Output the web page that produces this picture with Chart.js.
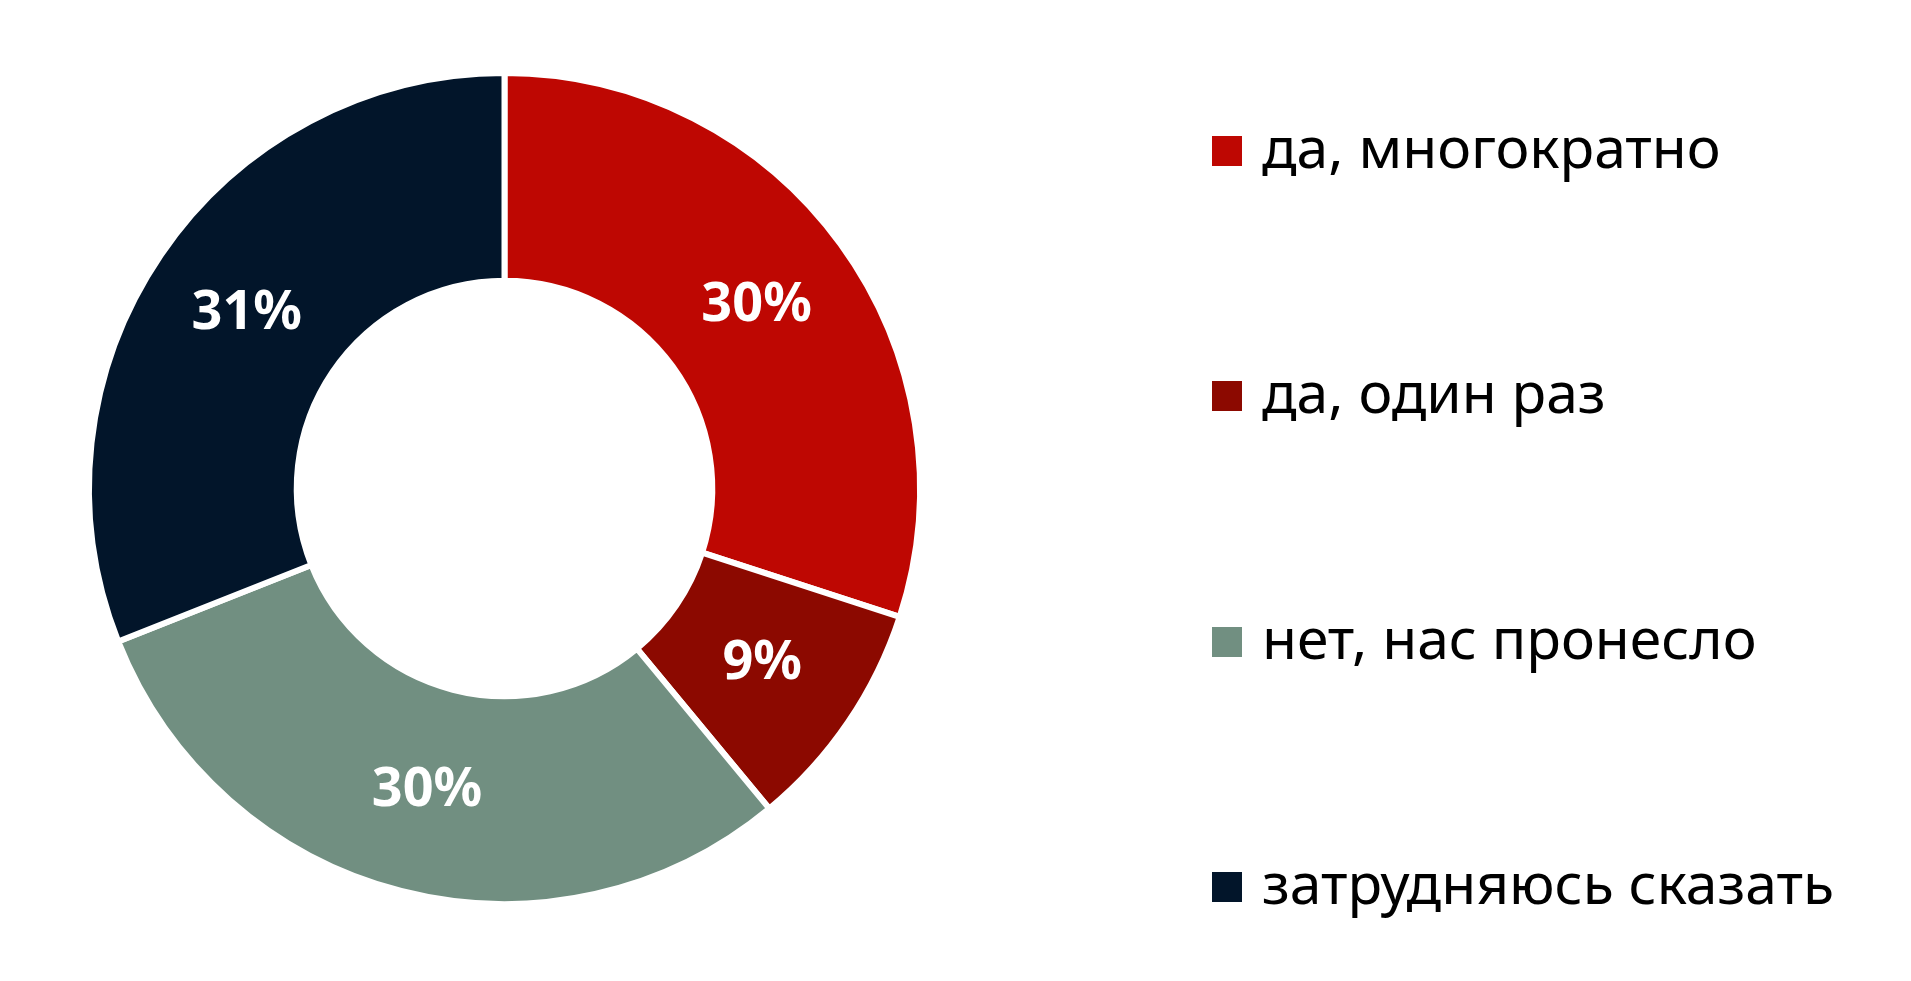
<!DOCTYPE html>
<html>
<head>
<meta charset="utf-8">
<script src="https://cdn.jsdelivr.net/npm/chart.js@4/dist/chart.umd.min.js"></script>
<style>
  html, body { margin: 0; padding: 0; background: #fff; }
  body { width: 1911px; height: 981px; position: relative; overflow: hidden; font-family: "Noto Sans", sans-serif; }
  .chart-container { position: absolute; left: 0; top: 0; width: 1009px; height: 981px; }
  .legend { position: absolute; left: 1212px; top: 0; }
  .legend-item { position: absolute; left: 0; white-space: nowrap; font-size: 57px; color: #000; line-height: 1; }
  .legend-box { position: absolute; left: 0; top: 2px; width: 30px; height: 30px; }
  .legend-text { position: absolute; left: 50px; top: -16px; }
</style>
</head>
<body>
<div class="chart-container"><canvas id="chart" aria-label="Donut chart" role="img"></canvas></div>
<div class="legend" id="legend"></div>
<script>
const categories = ['да, многократно', 'да, один раз', 'нет, нас пронесло', 'затрудняюсь сказать'];
const values = [30, 9, 30, 31];
const colors = ['#BE0702', '#8C0900', '#718F81', '#02152A'];

// white percent labels in the middle of each slice
const sliceLabels = {
  id: 'sliceLabels',
  afterDatasetsDraw(chart) {
    const { ctx } = chart;
    const meta = chart.getDatasetMeta(0);
    ctx.save();
    ctx.fillStyle = '#fff';
    ctx.font = 'bold 54px "Noto Sans", sans-serif';
    ctx.textAlign = 'center';
    ctx.textBaseline = 'middle';
    meta.data.forEach((arc, idx) => {
      const { x, y } = arc.getCenterPoint();
      ctx.fillText(`${values[idx]}%`, x, y);
    });
    ctx.restore();
  },
};

new Chart(document.getElementById('chart'), {
  type: 'doughnut',
  data: {
    labels: categories,
    datasets: [{
      data: values,
      backgroundColor: colors,
      borderColor: '#fff',
      borderWidth: 6,
      hoverOffset: 0,
    }],
  },
  options: {
    responsive: true,
    maintainAspectRatio: false,
    animation: false,
    cutout: '50%',
    layout: { padding: { top: 70, bottom: 74, left: 0, right: 0 } },
    plugins: {
      legend: { display: false },
      tooltip: { enabled: false },
    },
  },
  plugins: [sliceLabels],
});

// html legend, one row per category
const legendNode = document.getElementById('legend');
categories.forEach((label, idx) => {
  const top = 134 + idx * 245.4;
  const item = document.createElement('div');
  item.className = 'legend-item';
  item.style.top = `${top}px`;
  item.innerHTML = `<div class="legend-box" style="background:${colors[idx]}"></div>`
    + `<div class="legend-text">${label}</div>`;
  legendNode.appendChild(item);
});
</script>
</body>
</html>
